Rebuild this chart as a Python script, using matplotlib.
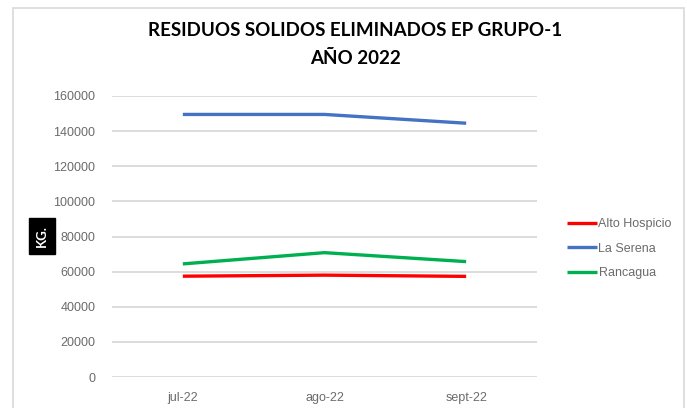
import matplotlib
matplotlib.use('Agg')
import matplotlib.pyplot as plt
from matplotlib.patches import Rectangle

meses = ['jul-22', 'ago-22', 'sept-22']
alto_hospicio = [57400, 58000, 57300]
la_serena = [149500, 149500, 144500]
rancagua = [64400, 70800, 65700]
yticks = list(range(0, 160001, 20000))

fig = plt.figure(figsize=(6.87, 4.08), dpi=100)
ax = fig.add_axes([112/687, 1-377/408, 425/687, 281/408])

ax.plot(meses, alto_hospicio, color='#FF0000', lw=2.4, label='Alto Hospicio', solid_capstyle='butt')
ax.plot(meses, la_serena, color='#4472C4', lw=2.4, label='La Serena', solid_capstyle='butt')
ax.plot(meses, rancagua, color='#00B050', lw=2.4, label='Rancagua', solid_capstyle='butt')

ax.set_xlim(-0.5, 2.5)
ax.set_ylim(0, 160000)
ax.set_yticks(yticks)
ax.set_yticklabels([str(v) for v in yticks])
ax.grid(axis='y', color='#D9D9D9', lw=1.3)
ax.set_axisbelow(True)
for s in ax.spines.values():
    s.set_visible(False)
ax.tick_params(length=0, colors='#6B6B6B', labelsize=9)
ax.tick_params(axis='y', pad=12)
ax.tick_params(axis='x', pad=11)
for t in ax.get_xticklabels() + ax.get_yticklabels():
    t.set_family(['Liberation Sans Narrow', 'Liberation Sans', 'DejaVu Sans'])

fig.text(42/687, 1-236/408, 'KG.', rotation=90, ha='center', va='center', color='white',
         fontsize=9.5, fontweight='bold', family='Lato',
         bbox=dict(boxstyle='square,pad=0.55', fc='black', ec='black'))

fig.text(355/687, 1-31/408, 'RESIDUOS SOLIDOS ELIMINADOS EP GRUPO-1', ha='center', va='center',
         fontsize=13.5, fontweight='bold', family='Lato')
fig.text(355/687, 1-58/408, 'AÑO 2022', ha='center', va='center',
         fontsize=13.5, fontweight='bold', family='Lato')

leg = fig.legend(loc='upper left', bbox_to_anchor=(556/687, 1-207/408), frameon=False,
                 handlelength=2.4, handletextpad=0.1, labelspacing=1.0,
                 prop={'family': ['Liberation Sans Narrow', 'Liberation Sans', 'DejaVu Sans'], 'size': 9})
for t in leg.get_texts():
    t.set_color('#6B6B6B')

fig.patches.append(Rectangle((13/687, -0.05), 671/687, 1.05 - 8/408, transform=fig.transFigure,
                             fill=False, ec='#D9D9D9', lw=1.2))

fig.savefig('out.png', dpi=100)
